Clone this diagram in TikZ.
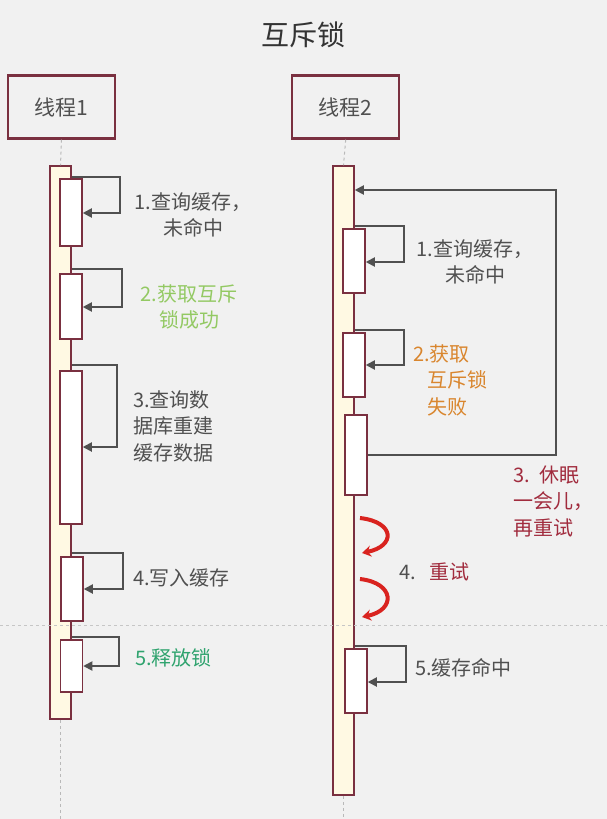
\documentclass[tikz,border=0pt]{standalone}
\usepackage{fontspec}
\setmainfont{Noto Sans CJK SC}
\usetikzlibrary{arrows.meta,positioning}

\definecolor{bgray}{HTML}{F1F1F1}
\definecolor{frame}{HTML}{7A3040}
\definecolor{cream}{HTML}{FFF9E3}
\definecolor{txtgray}{HTML}{505050}
\definecolor{lightgreen}{HTML}{93C963}
\definecolor{okgreen}{HTML}{2FA36E}
\definecolor{failorange}{HTML}{D9862E}
\definecolor{darkred}{HTML}{A12C3E}
\definecolor{retryred}{HTML}{D9231F}

\begin{document}
\begin{tikzpicture}[x=1pt,y=-1pt,
    thread/.style={draw=frame,fill=bgray,line width=2.2pt,minimum width=107pt,minimum height=63pt,
      font=\fontsize{21}{24}\selectfont,text=txtgray},
    lifebar/.style={draw=frame,fill=cream,line width=1.5pt,minimum width=21pt,inner sep=0pt},
    act/.style={draw=frame,fill=white,line width=1.5pt,minimum width=22pt,inner sep=0pt},
    life/.style={dashed,draw=gray!55,line width=1pt},
    call/.style={-{Triangle[length=9pt,width=9pt]},draw=txtgray,line width=1.8pt},
    retry/.style={-{Stealth[length=9pt,width=11pt]},draw=retryred,line width=4pt},
    lbl/.style={font=\fontsize{20}{26.5}\selectfont,inner sep=0pt,text=txtgray}
  ]
  \fill[bgray] (0,0) rectangle (607,819);
  \useasboundingbox (0,0) rectangle (607,819);

  \node[font=\fontsize{28}{32}\selectfont,text=black!80] (title) at (303,35) {互斥锁};

  % threads and life lines
  \node[thread] (t1) at (61.5,107) {线程1};
  \node[thread] (t2) [right=175pt of t1] {线程2};
  \node[lifebar,minimum height=553pt] (bar1) at (60.5,442.5) {};
  \node[lifebar,minimum height=629pt] (bar2) at (343.5,480.5) {};
  \draw[life] (t1.south) -- (bar1.north);
  \draw[life] (bar1.south) -- (bar1.south |- 0,819);
  \draw[life] (t2.south) -- (bar2.north);
  \draw[life] (bar2.south) -- (bar2.south |- 0,819);
  \draw[dashed,draw=gray!45,line width=1pt] (0,625) -- (607,625);

  % thread 1
  \node[act,minimum height=67pt] (a1) at (71,212.5) {};
  \node[act,minimum height=65pt] (a2) at (71,306.5) {};
  \node[act,minimum height=153pt] (a3) at (71,447.5) {};
  \node[act,minimum height=64pt] (a4) at (72,589) {};
  \node[act,minimum height=52pt] (a5) at (71.5,666) {};
  \draw[call] (bar1.east |- 0,177) -| (120,213) -- (a1.east |- 0,213);
  \draw[call] (bar1.east |- 0,269) -| (122,307) -- (a2.east |- 0,307);
  \draw[call] (bar1.east |- 0,365) -| (117,447) -- (a3.east |- 0,447);
  \draw[call] (bar1.east |- 0,553) -| (123,589) -- (a4.east |- 0,589);
  \draw[call] (bar1.east |- 0,637) -| (119,666) -- (a5.east |- 0,666);
  \node[lbl,align=center] (s1) at (193,215) {1.查询缓存，\\未命中};
  \node[lbl,align=center,text=lightgreen] (s2) at (189,307) {2.获取互斥\\锁成功};
  \node[lbl,align=left,anchor=west] (s3) at (133,426) {3.查询数\\据库重建\\缓存数据};
  \node[lbl,anchor=west] (s4) at (133,578) {4.写入缓存};
  \node[lbl,anchor=west,text=okgreen] (s5) at (135,658) {5.释放锁};

  % thread 2
  \node[act,minimum height=64pt] (b1) at (354,261) {};
  \node[act,minimum height=64pt] (b2) at (354,365) {};
  \node[act,minimum height=80pt] (b3) at (356,455) {};
  \node[act,minimum height=64pt] (b5) at (356,681) {};
  \draw[call] (bar2.east |- 0,226) -| (404,262) -- (b1.east |- 0,262);
  \draw[call] (bar2.east |- 0,330) -| (404,365) -- (b2.east |- 0,365);
  \draw[call] (b3.east) -| (556,190) -- (bar2.east |- 0,190);
  \draw[call] (bar2.east |- 0,646) -| (406,682) -- (b5.east |- 0,682);
  \coordinate (r1s) at (360,518);
  \coordinate (r1e) at (362,553);
  \coordinate (r2s) at (360,579);
  \coordinate (r2e) at (362,617);
  \draw[retry] (r1s) .. controls (395,522) and (396,546) .. (r1e);
  \draw[retry] (r2s) .. controls (395,583) and (396,610) .. (r2e);
  \node[lbl,align=center] (u1) at (475,262) {1.查询缓存，\\未命中};
  \node[lbl,align=left,anchor=west,text=failorange] (u2) at (413,380)
    {2.获取\\\hspace*{14pt}互斥锁\\\hspace*{14pt}失败};
  \node[lbl,align=left,anchor=west,text=darkred] (u3) at (513,501) {3.\hspace{10pt}休眠\\一会儿，\\再重试};
  \node[lbl,anchor=west] (u4) at (399,572) {4.\hspace{14pt}\textcolor{darkred}{重试}};
  \node[lbl,anchor=west] (u5) at (415,668) {5.缓存命中};
\end{tikzpicture}
\end{document}
